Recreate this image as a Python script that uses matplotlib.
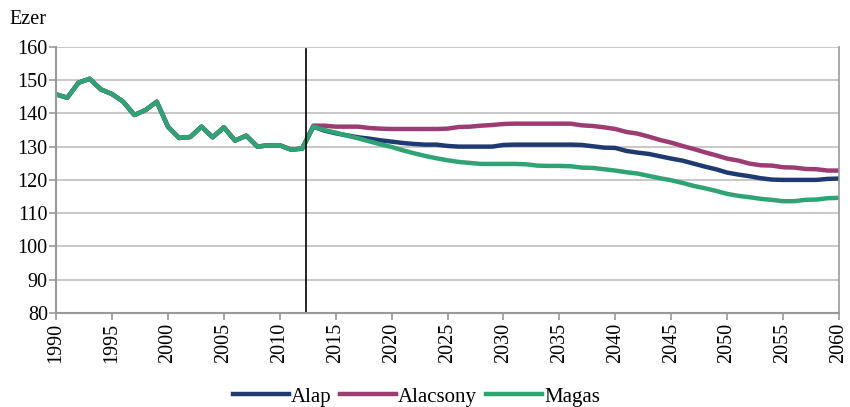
import matplotlib
matplotlib.use("Agg")
import matplotlib.pyplot as plt
import numpy as np

# shared history 1990-2012
hist_years = list(range(1990, 2013))
hist = [145.7, 144.7, 149.2, 150.4, 147.2, 145.8, 143.5, 139.5, 141.0, 143.5,
        136.0, 132.6, 132.9, 136.0, 132.8, 135.8, 131.8, 133.3, 130.0, 130.4,
        130.4, 129.1, 129.4]

# projections 2013-2060
proj_years = list(range(2013, 2061))
alap = [136.0, 134.8, 134.0, 133.4, 132.8, 132.4, 131.9, 131.5, 131.1, 130.8,
        130.6, 130.6, 130.2, 130.0, 130.0, 130.0, 130.0, 130.5, 130.6, 130.6,
        130.6, 130.6, 130.6, 130.6, 130.5, 130.1, 129.7, 129.6, 128.7, 128.2,
        127.8, 127.1, 126.4, 125.8, 124.9, 124.0, 123.2, 122.2, 121.6, 121.1,
        120.5, 120.1, 120.0, 120.0, 120.0, 120.0, 120.3, 120.4]
alacsony = [136.3, 136.3, 136.0, 136.0, 136.0, 135.6, 135.4, 135.3, 135.3, 135.3,
            135.3, 135.3, 135.4, 135.9, 136.0, 136.3, 136.5, 136.8, 136.9, 136.9,
            136.9, 136.9, 136.9, 136.9, 136.4, 136.2, 135.8, 135.3, 134.4, 133.9,
            133.0, 132.0, 131.2, 130.2, 129.3, 128.3, 127.4, 126.4, 125.8, 124.9,
            124.4, 124.3, 123.8, 123.7, 123.3, 123.2, 122.8, 122.8]
magas = [136.0, 135.0, 134.2, 133.3, 132.5, 131.6, 130.7, 129.9, 128.9, 128.0,
         127.2, 126.5, 125.9, 125.4, 125.1, 124.8, 124.8, 124.8, 124.8, 124.7,
         124.3, 124.2, 124.2, 124.1, 123.7, 123.6, 123.2, 122.8, 122.3, 121.9,
         121.2, 120.5, 119.9, 119.1, 118.2, 117.5, 116.7, 115.8, 115.2, 114.8,
         114.3, 114.0, 113.6, 113.6, 114.0, 114.1, 114.5, 114.6]

labels = ["Alap", "Alacsony", "Magas"]
colors = ["#1f3a70", "#9b3d72", "#2fa374"]

plt.rcParams['font.family'] = ['Liberation Serif', 'DejaVu Serif']

fig = plt.figure(figsize=(8.5, 4.07), dpi=100)
ax = fig.add_axes([0.066, 0.231, 0.921, 0.654])

years = hist_years + proj_years
for series, lab, col in zip([alap, alacsony, magas], labels, colors):
    ax.plot(years, hist + series, color=col, lw=3.2, label=lab,
            solid_joinstyle='round')

ax.axvline(2012.35, color='black', lw=1.2, ymax=0.99)

ax.set_xlim(1990, 2060)
ax.set_ylim(80, 160)
ax.set_xticks(range(1990, 2061, 5))
ax.set_yticks(range(80, 161, 10))
ax.tick_params(axis='x', labelrotation=90, labelsize=14.5, color='#999999',
               length=5, width=1.2, pad=2)
ax.tick_params(axis='y', labelsize=14.5, color='#999999', length=5, width=1.2, pad=1)
ax.grid(axis='y', color='#bfbfbf', lw=1.2)
ax.set_axisbelow(True)
for s in ['left', 'bottom']:
    ax.spines[s].set_color('#999999')
    ax.spines[s].set_linewidth(1.5)
ax.spines['right'].set_color('#999999')
ax.spines['right'].set_linewidth(1.2)
ax.spines['top'].set_visible(False)

fig.text(0.011, 0.953, "Ezer", fontsize=14.5, va='center', ha='left')

ax.legend(loc='center', bbox_to_anchor=(0.46, -0.315), ncol=3, frameon=False,
          fontsize=15, handlelength=2.7, handletextpad=0.1, columnspacing=0.4,
          borderaxespad=0)

fig.savefig("out.png", dpi=100)
